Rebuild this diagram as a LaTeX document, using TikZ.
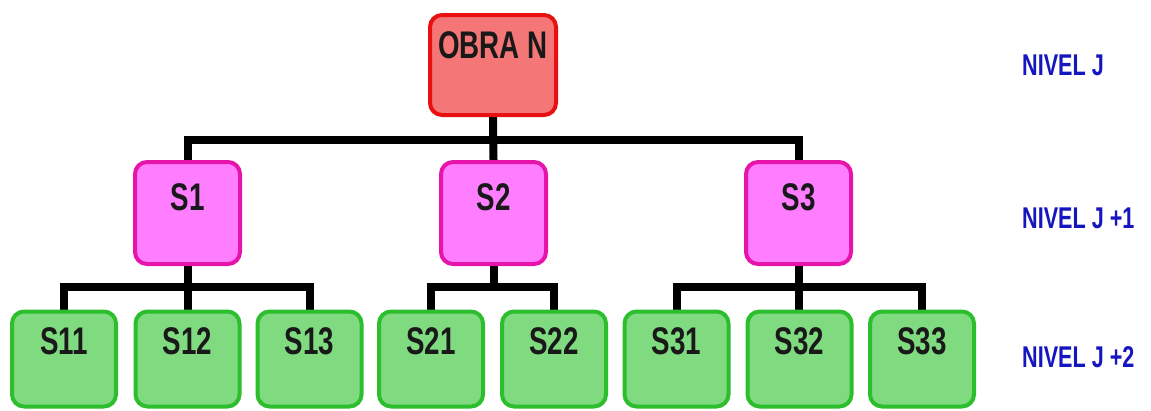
\documentclass[tikz,border=0pt]{standalone}
\usepackage{fontspec}
\setmainfont{Liberation Sans}[FakeStretch=0.72]
\usetikzlibrary{backgrounds}
\definecolor{redfill}{RGB}{245,118,118}
\definecolor{redline}{RGB}{232,16,16}
\definecolor{pinkfill}{RGB}{255,125,255}
\definecolor{pinkline}{RGB}{230,20,170}
\definecolor{greenfill}{RGB}{128,218,128}
\definecolor{greenline}{RGB}{45,190,45}
\definecolor{lvlblue}{RGB}{22,22,190}
\tikzset{
  basebox/.style={rounded corners=12pt, line width=4pt, inner sep=0pt},
  rbox/.style={basebox, draw=redline, fill=redfill, minimum width=126pt, minimum height=100pt},
  pbox/.style={basebox, draw=pinkline, fill=pinkfill, minimum width=105pt, minimum height=102pt},
  gbox/.style={basebox, draw=greenline, fill=greenfill, minimum width=104pt, minimum height=95pt},
  lbl/.style={anchor=north, inner sep=0pt, font=\fontsize{38.5}{40}\selectfont\bfseries, text=black!90},
  lblo/.style={lbl, yshift=-18pt},
  lbla/.style={lbl, yshift=-23pt},
  lblb/.style={lbl, yshift=-18pt},
  lvl/.style={anchor=base west, inner sep=0pt, font=\fontsize{30}{32}\selectfont\bfseries, text=lvlblue},
  conn/.style={line width=8pt, draw=black}
}
\begin{document}
\begin{tikzpicture}[x=1pt,y=-1pt]
\useasboundingbox (0,0) rectangle (1151,410);
% level J
\node[rbox, label={[lblo]north:OBRA N}] (obra) at (493,65) {};
% level J+1
\node[pbox, label={[lbla]north:S1}] (s1) at (187.5,213) {};
\node[pbox, label={[lbla]north:S2}] (s2) at (493.5,213) {};
\node[pbox, label={[lbla]north:S3}] (s3) at (798.5,213) {};
% level J+2
\node[gbox, label={[lblb]north:S11}] (s11) at (64,359) {};
\node[gbox, label={[lblb]north:S12}] (s12) at (187.5,359) {};
\node[gbox, label={[lblb]north:S13}] (s13) at (309.5,359) {};
\node[gbox, label={[lblb]north:S21}] (s21) at (431,359) {};
\node[gbox, label={[lblb]north:S22}] (s22) at (554,359) {};
\node[gbox, label={[lblb]north:S31}] (s31) at (676.5,359) {};
\node[gbox, label={[lblb]north:S32}] (s32) at (799.5,359) {};
\node[gbox, label={[lblb]north:S33}] (s33) at (922,359) {};
% level labels
\node[lvl] (nj) at (1022,75) {NIVEL J};
\node[lvl] (nj1) at (1022,228) {NIVEL J +1};
\node[lvl] (nj2) at (1022,367) {NIVEL J +2};
% bars
\coordinate (b0) at (493.5,139.5);
\coordinate (b1) at (187.5,287);
\coordinate (b2) at (493.5,287);
\coordinate (b3) at (798.5,287);
\begin{scope}[on background layer]
\draw[conn] (obra.south) -- (s2.north);
\draw[conn] (s1.north) |- (b0) -| (s3.north);
\draw[conn] (s1.south) -- (s12.north);
\draw[conn] (s11.north) |- (b1) -| (s13.north);
\draw[conn] (s2.south) -- (b2);
\draw[conn] (s21.north) |- (b2) -| (s22.north);
\draw[conn] (s3.south) -- (s3.south |- s32.north);
\draw[conn] (s31.north) |- (b3) -| (s33.north);
\end{scope}
\end{tikzpicture}
\end{document}
